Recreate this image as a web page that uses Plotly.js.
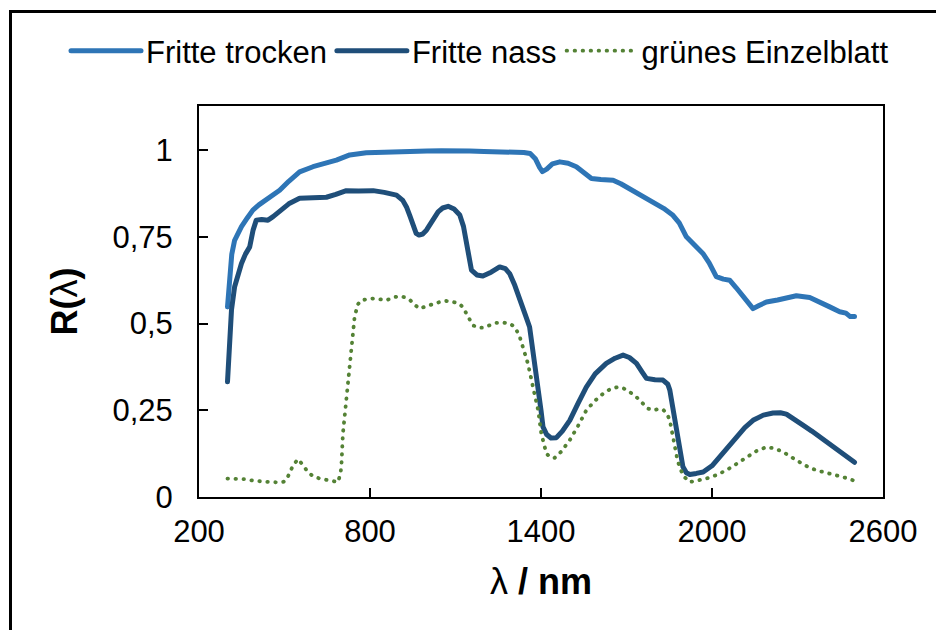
<!DOCTYPE html>
<html>
<head>
<meta charset="utf-8">
<script src="https://cdn.plot.ly/plotly-3.0.1.min.js"></script>
<style>
html,body{margin:0;padding:0;background:#fff;}
#wrap{position:relative;width:936px;height:630px;overflow:hidden;}
#chart{position:absolute;left:0;top:0;width:936px;height:630px;}
#frame{position:absolute;left:9px;top:10px;width:1000px;height:700px;border:3px solid #000;pointer-events:none;box-sizing:border-box;}
path.js-line{stroke-linecap:round;stroke-linejoin:round;}
</style>
</head>
<body>
<div id="wrap"><div id="chart"></div><div id="frame"></div></div>
<script>
const trockenX = [300,305,309,315,325,337,349,370,389,410,436,460,483,515,553,600,647,682,729,787,850,900,950,1000,1050,1100,1150,1200,1250,1300,1340,1362,1380,1395,1405,1420,1440,1466,1495,1524,1550,1577,1610,1653,1680,1711,1750,1793,1830,1863,1885,1910,1940,1968,1990,2015,2040,2062,2085,2109,2130,2144,2165,2191,2230,2261,2296,2343,2380,2413,2448,2470,2485,2495,2500];
const trockenY = [0.548,0.60,0.645,0.70,0.74,0.76,0.779,0.805,0.827,0.842,0.856,0.868,0.884,0.91,0.937,0.952,0.962,0.971,0.986,0.992,0.994,0.996,0.995,0.997,0.998,0.996,0.997,0.996,0.995,0.995,0.993,0.99,0.975,0.95,0.938,0.945,0.96,0.966,0.962,0.952,0.935,0.918,0.915,0.913,0.903,0.889,0.872,0.851,0.832,0.812,0.79,0.75,0.725,0.702,0.675,0.635,0.628,0.625,0.603,0.577,0.555,0.543,0.552,0.562,0.568,0.575,0.58,0.575,0.562,0.548,0.534,0.53,0.52,0.519,0.52];

const nassX = [300,304,308,314,325,337,349,363,378,390,401,420,442,460,483,515,553,600,647,680,717,760,811,850,893,915,928,940,951,962,972,985,998,1020,1039,1055,1074,1095,1115,1128,1138,1147,1156,1175,1196,1225,1255,1275,1290,1308,1325,1345,1360,1372,1380,1390,1400,1407,1420,1435,1454,1475,1501,1530,1559,1590,1629,1660,1688,1710,1735,1755,1770,1800,1828,1845,1852,1862,1875,1887,1898,1910,1922,1945,1969,2000,2027,2055,2086,2115,2144,2180,2214,2240,2261,2290,2319,2350,2378,2410,2437,2465,2495,2500];
const nassY = [0.332,0.40,0.442,0.539,0.606,0.645,0.673,0.70,0.721,0.77,0.798,0.80,0.798,0.808,0.822,0.845,0.861,0.863,0.864,0.872,0.883,0.882,0.883,0.878,0.87,0.855,0.836,0.81,0.779,0.76,0.755,0.758,0.769,0.80,0.822,0.833,0.838,0.83,0.813,0.78,0.74,0.695,0.654,0.64,0.637,0.648,0.663,0.658,0.644,0.61,0.567,0.525,0.49,0.423,0.37,0.317,0.25,0.202,0.18,0.17,0.171,0.19,0.221,0.27,0.317,0.355,0.385,0.40,0.409,0.402,0.385,0.36,0.342,0.338,0.337,0.325,0.308,0.26,0.202,0.14,0.087,0.07,0.065,0.068,0.072,0.09,0.115,0.145,0.173,0.20,0.221,0.236,0.242,0.243,0.239,0.225,0.207,0.19,0.173,0.152,0.135,0.118,0.104,0.10];

const blattX = [300,335,366,390,413,450,483,497,507,520,530,547,562,582,600,624,650,670,688,697,700,705,711,717,723,729,735,746,757,769,790,811,835,858,880,904,920,939,955,974,998,1021,1045,1068,1090,1115,1128,1138,1150,1161,1180,1196,1220,1243,1265,1290,1305,1314,1326,1337,1354,1372,1390,1401,1410,1419,1435,1448,1470,1501,1530,1559,1590,1618,1645,1670,1690,1711,1735,1758,1775,1793,1810,1828,1842,1852,1860,1869,1878,1886,1900,1922,1950,1980,2015,2050,2085,2121,2155,2191,2220,2249,2270,2296,2330,2366,2400,2437,2470,2495];
const blattY = [0.053,0.053,0.051,0.047,0.045,0.043,0.042,0.044,0.05,0.075,0.091,0.109,0.095,0.072,0.06,0.053,0.048,0.045,0.043,0.07,0.096,0.183,0.23,0.279,0.33,0.375,0.44,0.519,0.555,0.567,0.57,0.572,0.57,0.567,0.575,0.579,0.576,0.569,0.555,0.543,0.55,0.556,0.562,0.565,0.563,0.556,0.545,0.529,0.51,0.495,0.488,0.488,0.495,0.502,0.503,0.5,0.492,0.481,0.46,0.433,0.385,0.317,0.25,0.183,0.15,0.125,0.113,0.113,0.13,0.164,0.205,0.25,0.278,0.298,0.312,0.317,0.313,0.303,0.288,0.269,0.255,0.25,0.253,0.252,0.24,0.221,0.185,0.144,0.11,0.087,0.06,0.043,0.048,0.053,0.063,0.077,0.095,0.115,0.132,0.144,0.14,0.13,0.118,0.106,0.09,0.077,0.07,0.063,0.055,0.048];

const seriesNames = ['Fritte trocken','Fritte nass','grünes Einzelblatt'];
const xTickVals = [200,800,1400,2000,2600];
const yTickVals = [0,0.25,0.5,0.75,1];
const yTickText = ['0','0,25','0,5','0,75','1'];

const FONT = 'Liberation Sans, Arial, sans-serif';
const FS = 31;
const TFS = 36;

const traces = [
  {x: trockenX, y: trockenY, name: seriesNames[0], mode:'lines', line:{color:'#2E75B6', width:5}},
  {x: nassX, y: nassY, name: seriesNames[1], mode:'lines', line:{color:'#1F4E79', width:5}},
  {x: blattX, y: blattY, name: seriesNames[2], mode:'lines', line:{color:'#548235', width:3.8, dash:'0.5px,7.5px'}}
];

const layout = {
  width: 936, height: 630,
  paper_bgcolor:'rgba(0,0,0,0)', plot_bgcolor:'#fff',
  font:{family: FONT, size: FS, color:'#000'},
  margin:{l:199, r:53, t:106, b:133},
  showlegend:true,
  legend:{orientation:'h', x:(66-199)/684, xanchor:'left', y:(497-51)/391, yanchor:'middle',
          font:{family:FONT, size:FS, color:'#000'}, itemwidth:70, bgcolor:'rgba(0,0,0,0)'},
  xaxis:{range:[200,2600], tickvals:xTickVals, ticks:'inside', ticklen:9, tickwidth:2, tickcolor:'#000',
         showline:true, linecolor:'#000', linewidth:2, mirror:true, showgrid:false, zeroline:false,
         ticklabelstandoff:6,
         title:{text:'λ<b> / nm</b>', font:{family:FONT, size:TFS}, standoff:21}},
  yaxis:{range:[0,1.127], tickvals:yTickVals, ticktext:yTickText, ticks:'inside', ticklen:9, tickwidth:2, tickcolor:'#000',
         showline:true, linecolor:'#000', linewidth:2, mirror:true, showgrid:false, zeroline:false,
         ticklabelstandoff:18,
         title:{text:'<b>R(</b>λ<b>)</b>', font:{family:FONT, size:TFS}, standoff:24}}
};

Plotly.newPlot('chart', traces, layout, {displayModeBar:false, staticPlot:true});
</script>
</body>
</html>
